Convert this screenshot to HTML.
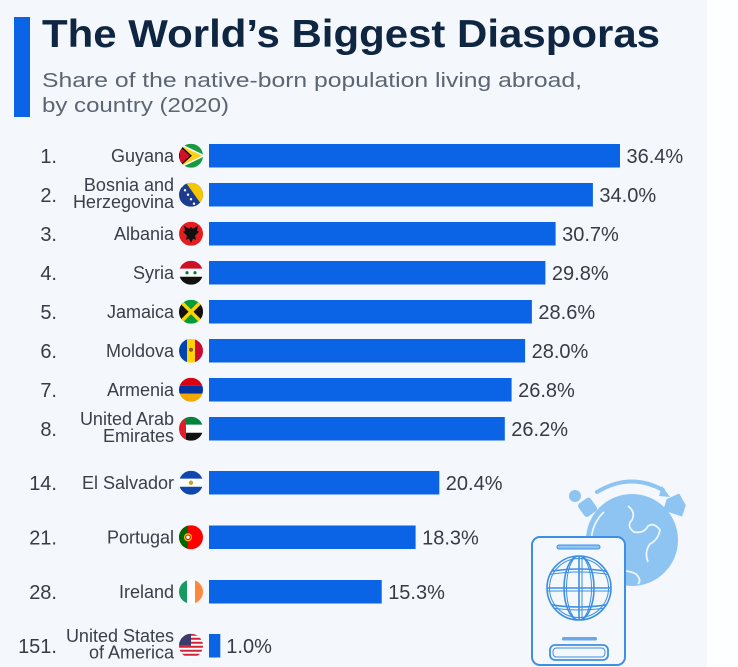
<!DOCTYPE html>
<html><head><meta charset="utf-8"><style>
html,body{margin:0;padding:0;background:#fff;}
svg{display:block;}
text{font-family:"Liberation Sans",sans-serif;}
</style></head><body>
<svg width="738" height="667" viewBox="0 0 738 667" xmlns="http://www.w3.org/2000/svg">
<defs>
<clipPath id="c"><circle cx="0" cy="0" r="12"/></clipPath>
<clipPath id="pg"><circle cx="0" cy="0" r="32"/></clipPath>
</defs>
<rect x="0" y="0" width="707" height="667" fill="#f4f7fb"/>
<rect x="707" y="0" width="31" height="667" fill="#fdfeff"/>

<!-- header -->
<rect x="14" y="17" width="16" height="100" fill="#0b63e5"/>
<text x="42" y="47" font-size="39" font-weight="bold" fill="#0e2641" textLength="618" lengthAdjust="spacingAndGlyphs">The World’s Biggest Diasporas</text>
<text x="42" y="87" font-size="20.5" fill="#5c6573" textLength="540" lengthAdjust="spacingAndGlyphs">Share of the native-born population living abroad,</text>
<text x="42" y="112" font-size="20.5" fill="#5c6573" textLength="187" lengthAdjust="spacingAndGlyphs">by country (2020)</text>

<!-- bars -->
<g fill="#0b63e5">
<rect x="209" y="144" width="411" height="23.5"/>
<rect x="209" y="183" width="383.9" height="23.5"/>
<rect x="209" y="222" width="346.6" height="23.5"/>
<rect x="209" y="261" width="336.4" height="23.5"/>
<rect x="209" y="300" width="322.9" height="23.5"/>
<rect x="209" y="339" width="316.1" height="23.5"/>
<rect x="209" y="378" width="302.6" height="23.5"/>
<rect x="209" y="417" width="295.8" height="23.5"/>
<rect x="209" y="471" width="230.3" height="23.5"/>
<rect x="209" y="525.5" width="206.6" height="23.5"/>
<rect x="209" y="580" width="172.7" height="23.5"/>
<rect x="209" y="634" width="11.3" height="23.5"/>
</g>

<!-- values -->
<g font-size="20" fill="#363c46">
<text x="626.5" y="162.75">36.4%</text>
<text x="599.4" y="201.75">34.0%</text>
<text x="562.1" y="240.75">30.7%</text>
<text x="551.9" y="279.75">29.8%</text>
<text x="538.4" y="318.75">28.6%</text>
<text x="531.6" y="357.75">28.0%</text>
<text x="518.1" y="396.75">26.8%</text>
<text x="511.3" y="435.75">26.2%</text>
<text x="445.8" y="489.75">20.4%</text>
<text x="422.1" y="544.25">18.3%</text>
<text x="388.2" y="598.75">15.3%</text>
<text x="226.3" y="652.75">1.0%</text>
</g>

<!-- ranks -->
<g font-size="20" fill="#363c46" text-anchor="end">
<text x="57" y="162.75">1.</text>
<text x="57" y="201.75">2.</text>
<text x="57" y="240.75">3.</text>
<text x="57" y="279.75">4.</text>
<text x="57" y="318.75">5.</text>
<text x="57" y="357.75">6.</text>
<text x="57" y="396.75">7.</text>
<text x="57" y="435.75">8.</text>
<text x="57" y="489.75">14.</text>
<text x="57" y="544.25">21.</text>
<text x="57" y="598.75">28.</text>
<text x="57" y="652.75">151.</text>
</g>

<!-- labels -->
<g font-size="18" fill="#3a404a" text-anchor="end">
<text x="174" y="162">Guyana</text>
<text x="174" y="191">Bosnia and</text>
<text x="174" y="208">Herzegovina</text>
<text x="174" y="240">Albania</text>
<text x="174" y="279">Syria</text>
<text x="174" y="318">Jamaica</text>
<text x="174" y="357">Moldova</text>
<text x="174" y="396">Armenia</text>
<text x="174" y="425">United Arab</text>
<text x="174" y="442">Emirates</text>
<text x="174" y="489">El Salvador</text>
<text x="174" y="543.5">Portugal</text>
<text x="174" y="598">Ireland</text>
<text x="174" y="642">United States</text>
<text x="174" y="658.5">of America</text>
</g>

<!-- flags -->
<g transform="translate(191,155.75)"><g clip-path="url(#c)">
<rect x="-12" y="-12" width="24" height="24" fill="#169b3e"/>
<polygon points="-12,-12 13,0 -12,12" fill="#fcd116" stroke="#fff" stroke-width="1.5"/>
<polygon points="-12,-11 0,0 -12,11" fill="#ce1126" stroke="#000" stroke-width="1.2"/>
</g></g>
<g transform="translate(191,194.75)"><g clip-path="url(#c)">
<rect x="-12" y="-12" width="24" height="24" fill="#1d3c8f"/>
<polygon points="-5,-12 12,-12 12,12" fill="#f7c600"/>
<g fill="#fff"><circle cx="-9" cy="-9" r="1.2"/><circle cx="-6" cy="-4.5" r="1.2"/><circle cx="-3" cy="0" r="1.2"/><circle cx="0" cy="4.5" r="1.2"/><circle cx="3" cy="9" r="1.2"/></g>
</g></g>
<g transform="translate(191,233.75)"><g clip-path="url(#c)">
<rect x="-12" y="-12" width="24" height="24" fill="#e41e20"/>
<path d="M0,-7 L2,-5 L7,-8 L6,-3 L8,-2 L4,2 L5,6 L2,5 L0,9 L-2,5 L-5,6 L-4,2 L-8,-2 L-6,-3 L-7,-8 L-2,-5 Z" fill="#111"/>
</g></g>
<g transform="translate(191,272.75)"><g clip-path="url(#c)">
<rect x="-12" y="-12" width="24" height="8" fill="#ce1126"/>
<rect x="-12" y="-4" width="24" height="8" fill="#fff"/>
<rect x="-12" y="4" width="24" height="8" fill="#111"/>
<circle cx="-4" cy="0" r="1.6" fill="#007a3d"/><circle cx="4" cy="0" r="1.6" fill="#007a3d"/>
</g></g>
<g transform="translate(191,311.75)"><g clip-path="url(#c)">
<rect x="-12" y="-12" width="24" height="24" fill="#009b3a"/>
<polygon points="-12,-12 0,0 -12,12" fill="#111"/>
<polygon points="12,-12 0,0 12,12" fill="#111"/>
<path d="M-12,-12 L12,12 M12,-12 L-12,12" stroke="#fed100" stroke-width="3.5"/>
</g></g>
<g transform="translate(191,350.75)"><g clip-path="url(#c)">
<rect x="-12" y="-12" width="8" height="24" fill="#0046ae"/>
<rect x="-4" y="-12" width="8" height="24" fill="#ffd200"/>
<rect x="4" y="-12" width="8" height="24" fill="#cc092f"/>
<circle cx="0" cy="-1" r="2" fill="#8a5a2b"/>
</g></g>
<g transform="translate(191,389.75)"><g clip-path="url(#c)">
<rect x="-12" y="-12" width="24" height="8" fill="#d90012"/>
<rect x="-12" y="-4" width="24" height="8" fill="#0033a0"/>
<rect x="-12" y="4" width="24" height="8" fill="#f2a800"/>
</g></g>
<g transform="translate(191,428.75)"><g clip-path="url(#c)">
<rect x="-12" y="-12" width="24" height="8" fill="#00843d"/>
<rect x="-12" y="-4" width="24" height="8" fill="#fff"/>
<rect x="-12" y="4" width="24" height="8" fill="#111"/>
<rect x="-12" y="-12" width="7" height="24" fill="#e21c2b"/>
</g></g>
<g transform="translate(191,482.75)"><g clip-path="url(#c)">
<rect x="-12" y="-12" width="24" height="8" fill="#0f47af"/>
<rect x="-12" y="-4" width="24" height="8" fill="#fff"/>
<rect x="-12" y="4" width="24" height="8" fill="#0f47af"/>
<circle cx="0" cy="0" r="2.2" fill="#c9a227"/>
</g></g>
<g transform="translate(191,537.25)"><g clip-path="url(#c)">
<rect x="-12" y="-12" width="24" height="24" fill="#ff0000"/>
<rect x="-12" y="-12" width="9" height="24" fill="#006600"/>
<circle cx="-3" cy="0" r="4" fill="#ffcc00"/>
<circle cx="-3" cy="0" r="2.3" fill="#fff" stroke="#d00" stroke-width="1"/>
</g></g>
<g transform="translate(191,591.75)"><g clip-path="url(#c)">
<rect x="-12" y="-12" width="8" height="24" fill="#169b62"/>
<rect x="-4" y="-12" width="8" height="24" fill="#fff"/>
<rect x="4" y="-12" width="8" height="24" fill="#ff883e"/>
</g></g>
<g transform="translate(191,645.75)"><g clip-path="url(#c)">
<rect x="-12" y="-12" width="24" height="24" fill="#fff"/>
<g fill="#d22234"><rect x="-12" y="-12" width="24" height="2"/><rect x="-12" y="-8" width="24" height="2"/><rect x="-12" y="-4" width="24" height="2"/><rect x="-12" y="0" width="24" height="2"/><rect x="-12" y="4" width="24" height="2"/><rect x="-12" y="8" width="24" height="2"/></g>
<rect x="-12" y="-12" width="12" height="12" fill="#3c3b6e"/>
</g></g>

<!-- illustration -->
<g fill="#8ec4f2" stroke="none">
<circle cx="632" cy="540" r="46"/>
<circle cx="575" cy="496" r="6"/>
<rect x="580" y="499" width="15" height="16" rx="3" transform="rotate(-35 588 507)"/>
<g transform="rotate(18 676 503)">
<polygon points="666,502 676,493 686,502 686,514 666,514"/>
</g>
<polygon points="662,486 670,497 659,496"/>
</g>
<path d="M597,492 Q630,472 663,490" fill="none" stroke="#8ec4f2" stroke-width="4" stroke-linecap="round"/>
<g fill="none" stroke="#eef5fc" stroke-width="1.8">
<path d="M596,560 A40,40 0 0,1 604,512"/>
<path d="M628,506 q8,6 4,14 q-6,6 2,12 q10,2 14,-6 q6,-4 12,4 q-2,10 -10,14 q-6,8 -2,18"/>
<path d="M612,574 q12,-6 24,0 q6,6 2,10"/>
</g>

<!-- passport -->
<rect x="532" y="537" width="93" height="128" rx="8" fill="#f4f8fc" stroke="#3d8fe3" stroke-width="2"/>
<rect x="557" y="545" width="43" height="4" rx="2" fill="#8ec4f2" stroke="#3d8fe3" stroke-width="1"/>
<g transform="translate(579,588)">
<g fill="none" stroke="#3d8fe3" stroke-width="1.6">
<circle cx="0" cy="0" r="32"/>
<circle cx="0" cy="0" r="29.5" stroke-width="1"/>
<g clip-path="url(#pg)">
<ellipse cx="0" cy="0" rx="15" ry="32"/>
<ellipse cx="0" cy="0" rx="12.5" ry="32" stroke-width="1"/>
<line x1="0" y1="-32" x2="0" y2="32"/>
<line x1="3" y1="-32" x2="3" y2="32" stroke-width="1"/>
<line x1="-32" y1="0" x2="32" y2="0"/>
<line x1="-32" y1="3" x2="32" y2="3" stroke-width="1"/>
<path d="M-32,-16 Q0,-22 32,-16"/>
<path d="M-32,-13 Q0,-19 32,-13" stroke-width="1"/>
<path d="M-32,16 Q0,22 32,16"/>
<path d="M-32,19 Q0,25 32,19" stroke-width="1"/>
</g>
</g>
</g>
<rect x="562" y="637" width="35" height="3.5" rx="1.5" fill="#6aa8ea"/>
<rect x="550" y="645" width="58" height="15" rx="5" fill="none" stroke="#3d8fe3" stroke-width="1.8"/>
<rect x="553" y="648" width="52" height="9" rx="3.5" fill="none" stroke="#3d8fe3" stroke-width="1"/>
</svg>
</body></html>
